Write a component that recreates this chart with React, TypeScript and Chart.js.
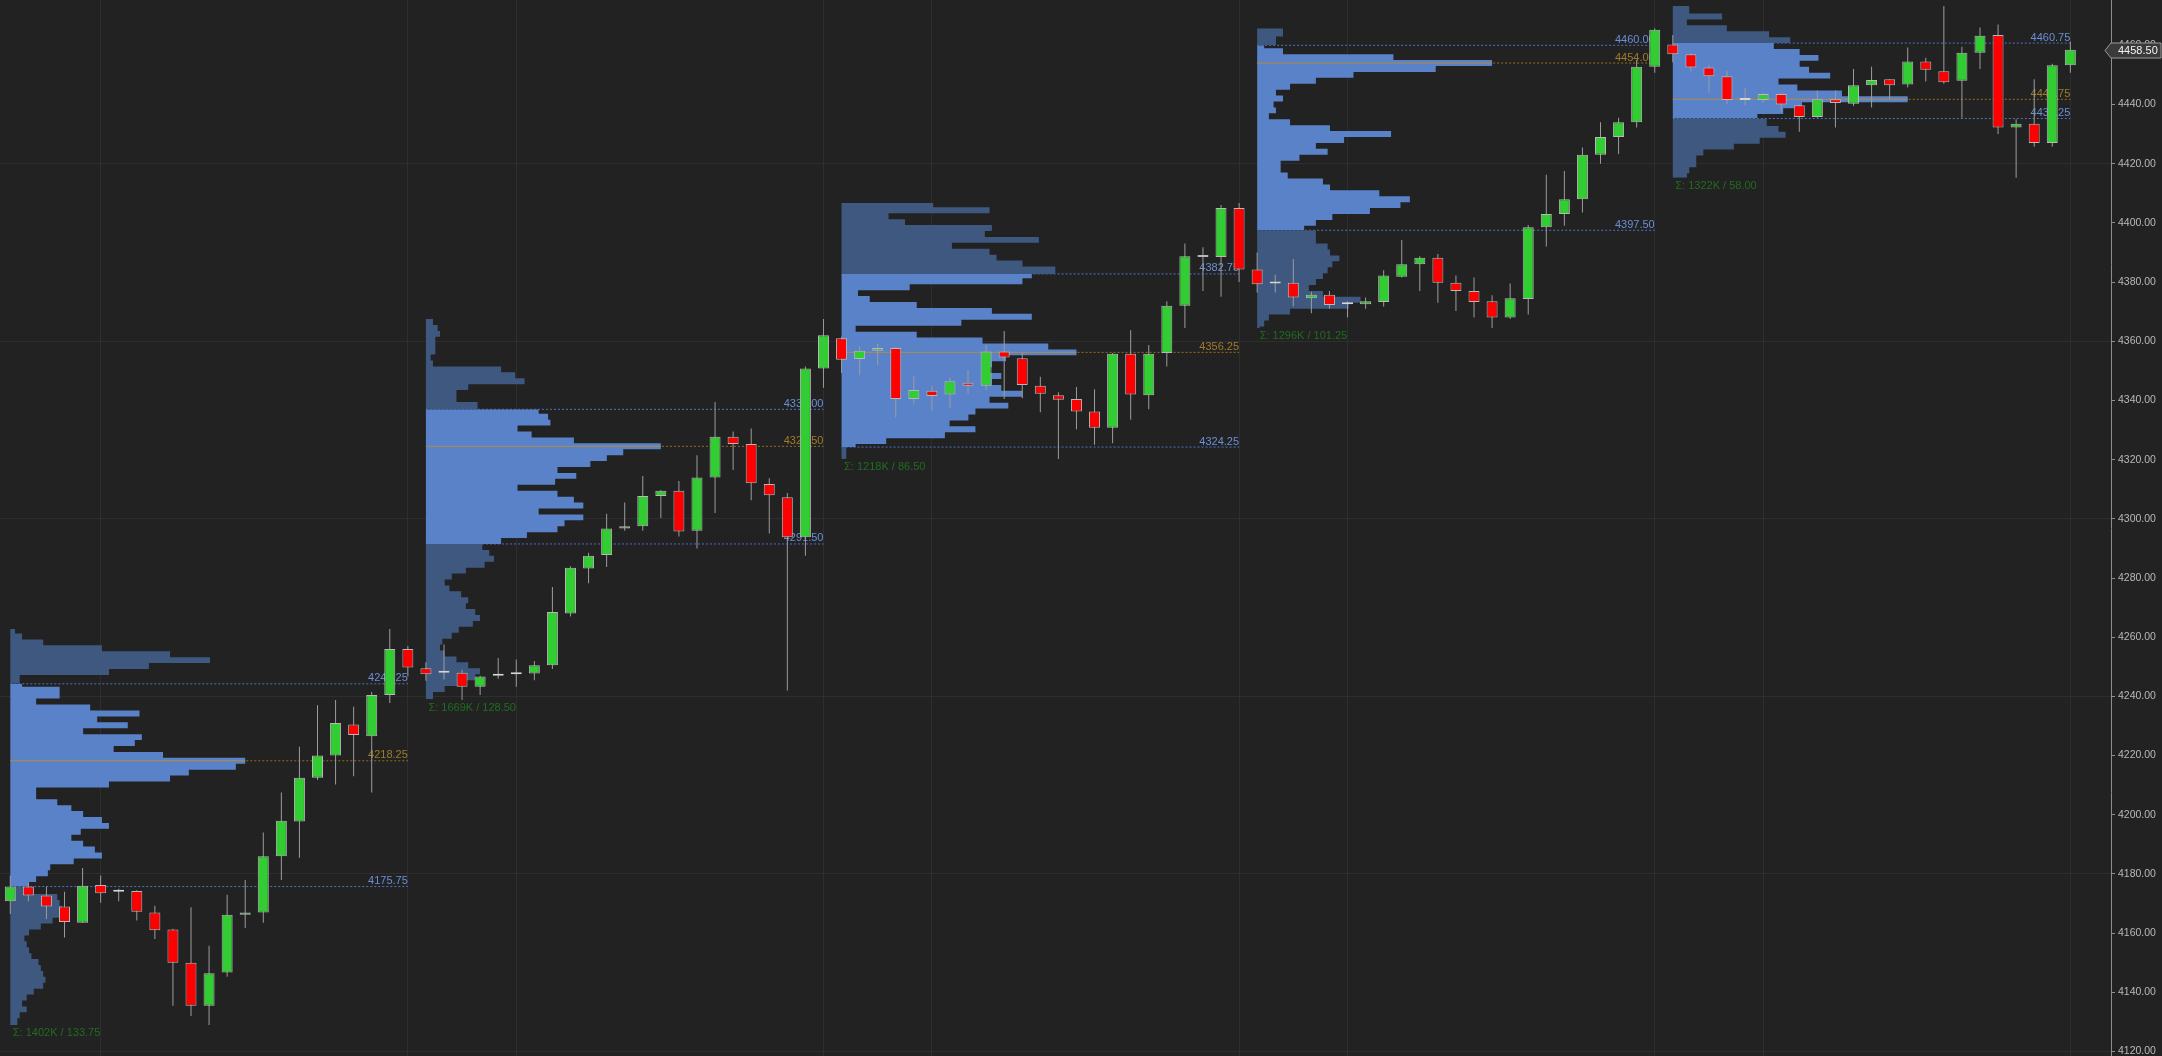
import React, { useEffect, useRef } from 'react';
import { Chart, registerables } from 'chart.js';

Chart.register(...registerables);

// ---------- Candles (one per bar, index 0..114) ----------
const opens = [
  4170.75, 4175.75, 4172.75, 4169, 4163.5, 4176.25, 4174, 4174.25, 4167, 4161.25, 4150, 4135.5, 4146.75, 4166.25, 4167, 4186, 4197.75, 4212.5, 4220, 4230.5, 4226.5, 4240.5, 4256,
  4249.5, 4248, 4248, 4243.25, 4247, 4247.5, 4247.75, 4250.5, 4268, 4283.25, 4287.75, 4296.75, 4297.5, 4307.75, 4309.5, 4296, 4314, 4327.75, 4325.25, 4311.75, 4307.25, 4293.75, 4350.75,
  4361, 4354, 4356.75, 4357.75, 4340.5, 4343.25, 4342, 4346, 4345, 4356.5, 4354.25, 4345, 4341.75, 4340.5, 4336.25, 4330.75, 4355.75, 4341.75, 4356, 4372, 4389, 4388.5, 4405,
  4384.25, 4379.5, 4379.75, 4374.5, 4375.75, 4372.5, 4372.5, 4373.25, 4381.75, 4386, 4388.25, 4379.75, 4377, 4373.5, 4368, 4374.25, 4398.5, 4403, 4408, 4423, 4429, 4434, 4452.75,
  4460.25, 4457, 4452.5, 4449.5, 4441.5, 4441.5, 4443.5, 4439.75, 4435.75, 4441.75, 4440.25, 4446.5, 4448.5, 4446.75, 4454.5, 4451.25, 4448, 4457.5, 4463.5, 4432.25, 4433.5, 4427, 4453.25,
];
const highs = [
  4179.5, 4177, 4175.75, 4174, 4182, 4179.5, 4175, 4174.5, 4169.25, 4161.5, 4168.75, 4155.75, 4173, 4178, 4194, 4207.5, 4223, 4237, 4238.75, 4236.5, 4241.5, 4262.75, 4257,
  4251.5, 4257.5, 4249, 4247, 4253, 4252.5, 4252, 4277, 4284, 4288.5, 4301.75, 4305.5, 4314.5, 4309.75, 4312.75, 4321.5, 4339.5, 4329.5, 4330.5, 4313.75, 4308.75, 4351.5, 4367.5,
  4361.5, 4358.25, 4359.25, 4358, 4348.25, 4345, 4347.75, 4350.25, 4358.75, 4363.5, 4356, 4348, 4342.75, 4344.5, 4343.75, 4356, 4363.75, 4358.75, 4373.5, 4393, 4391.75, 4406, 4406.75,
  4390, 4382.5, 4387.75, 4376.75, 4377, 4373.5, 4374.75, 4384, 4394.25, 4388.75, 4389.5, 4382.25, 4381.5, 4375.5, 4379.5, 4399.25, 4416.25, 4417.5, 4425.5, 4434, 4435.5, 4455, 4465.75,
  4463.5, 4457.25, 4453.25, 4451.25, 4445.5, 4444, 4443.75, 4440, 4444.75, 4444.75, 4452, 4452.75, 4448.5, 4459.25, 4455.75, 4473.25, 4459.5, 4466, 4467, 4435, 4448.5, 4453.75, 4461.25,
];
const lows = [
  4166.5, 4170.75, 4164.75, 4158.5, 4163.5, 4170.25, 4170.75, 4164.25, 4158, 4135.5, 4132, 4129, 4145.25, 4161.75, 4163.5, 4178, 4185.5, 4211.75, 4210.25, 4213, 4207.5, 4237.75, 4246.75,
  4245.25, 4245.75, 4238.75, 4240.5, 4246, 4243.25, 4245.5, 4249.25, 4267, 4278.25, 4283.75, 4296, 4296, 4300.25, 4294, 4290, 4302, 4316.5, 4306.25, 4295, 4242, 4287.5, 4344.25,
  4349.25, 4348.5, 4352, 4334.25, 4339, 4336.5, 4337.25, 4342.25, 4343.5, 4340.5, 4340.75, 4336, 4320.25, 4330.25, 4325, 4325.5, 4333.5, 4337, 4351.5, 4364.5, 4377, 4375, 4380,
  4376.5, 4376.5, 4371.75, 4369.5, 4371, 4368, 4371, 4371.75, 4381.5, 4377, 4373, 4370.25, 4368, 4364.5, 4367.5, 4369, 4392, 4399, 4403.5, 4420, 4423.25, 4432.25, 4450.75,
  4454.25, 4451.25, 4444, 4440.25, 4439.75, 4440.5, 4437.5, 4430.75, 4435.5, 4432.25, 4439.5, 4439, 4441.75, 4445.75, 4447.75, 4447, 4435.5, 4452, 4430, 4415.25, 4425.75, 4425.75, 4450.75,
];
const closes = [
  4175.75, 4172.75, 4169, 4163.75, 4176, 4173.5, 4174, 4167.25, 4161, 4150, 4135.5, 4146.5, 4166.25, 4167, 4186, 4198, 4212.5, 4220, 4231, 4227, 4240.5, 4256, 4249.75,
  4247.5, 4248, 4243.25, 4246.75, 4247, 4247.5, 4250.5, 4268.5, 4283.5, 4287.5, 4296.75, 4297.5, 4307.75, 4309.5, 4295.75, 4314, 4327.75, 4325.25, 4312, 4308, 4293.75, 4350.75, 4362,
  4353.75, 4356.75, 4357.75, 4340.5, 4343.5, 4341.5, 4346.5, 4345, 4356.5, 4354.5, 4345.25, 4342.25, 4340.25, 4336.25, 4330.75, 4355.75, 4342, 4355.75, 4372, 4388.75, 4388.5, 4405, 4384.25,
  4379.25, 4379.5, 4374.75, 4375.75, 4372.25, 4372.5, 4373.5, 4382.25, 4386, 4388.25, 4379.75, 4377, 4373.25, 4368, 4374.5, 4398.5, 4403, 4408, 4423, 4429, 4434, 4452.75, 4465.25,
  4457, 4452.5, 4449.5, 4441.5, 4441.5, 4443.5, 4440, 4435.75, 4441.75, 4440.5, 4446.5, 4448.25, 4446.5, 4454.5, 4451.75, 4447.5, 4457.5, 4463.25, 4432.25, 4433.5, 4427, 4453.25, 4458.5,
];

// ---------- Sessions / volume profiles ----------
const sessionStarts = [0, 23, 46, 69, 92];
const sessionEnds = [22, 45, 68, 91, 114];
const profileHighs = [4262.75, 4367.5, 4406.75, 4465.75, 4473.25];
const profileLows = [4129.0, 4239.0, 4320.25, 4364.5, 4415.25];
const profilePocs = [4218.25, 4324.5, 4356.25, 4454.0, 4441.75];
const profileVahs = [4244.25, 4337.0, 4382.75, 4460.0, 4460.75];
const profileVals = [4175.75, 4291.5, 4324.25, 4397.5, 4435.25];
const profileVolumesK = [1402, 1669, 1218, 1296, 1322];
const profileTopLevels = [4262.25, 4366.5, 4406.25, 4464.0, 4471.75];
const profileStep = 2; // price points per profile row

// relative volume per row (% of POC), listed from the top row downwards
const profile1 = [
  2, 5, 14, 39, 68, 85, 59, 42, 4, 5, 21, 21, 11, 34, 55, 37, 50, 31, 56, 53, 44, 65,
  100,
  96, 76, 68, 42, 11, 11, 20, 26, 31, 39, 42, 30, 26, 31, 36, 39, 27, 17, 16, 11, 8, 10,
  20, 21, 22, 21, 18, 13, 8, 6, 7, 8, 9, 12, 13, 14, 15, 14, 10, 7, 5, 7, 4, 3,
];
const profile2 = [
  3, 5, 6, 4, 4, 4, 2, 3, 32, 38, 42, 18, 13, 13, 22, 48, 52, 53, 39, 45, 63,
  100,
  84, 77, 70, 56, 64, 55, 39, 56, 63, 67, 48, 67, 59, 56, 43, 32, 24, 27, 29, 25, 17,
  11, 8, 10, 15, 18, 17, 21, 23, 20, 14, 11, 7, 6, 8, 13, 18, 23, 21, 14, 8, 3,
];
const profile3 = [
  39, 63, 20, 27, 64, 61, 84, 47, 63, 66, 77, 91, 81, 77, 29, 7, 12, 32, 64, 81, 51, 6, 32, 60, 88,
  100,
  70, 64, 61, 68, 64, 68, 77, 63, 71, 57, 54, 46, 57, 44, 19, 6, 2, 2,
];
const profile4 = [
  11, 8, 3, 11, 58,
  100,
  76, 41, 25, 14, 8, 11, 7, 8, 5, 14, 31, 57, 37, 25, 30, 18, 10, 10, 13, 28, 31, 52, 65,
  61, 48, 32, 25, 20, 25, 25, 30, 31, 35, 32, 30, 28, 25, 22, 28, 44, 39, 14, 5, 3, 1,
];
const profile5 = [
  7, 21, 6, 23, 41, 50, 43, 54, 62, 54, 58, 67, 45, 53, 72,
  100,
  55, 47, 36, 40, 45, 48, 37, 26, 13, 10, 10, 7, 6,
];
const profileShapes = [profile1, profile2, profile3, profile4, profile5];

// ---------- Axes ----------
const yMin = 4118.5;
const yMax = 4475.3;
const yTickStep = 20;
const yGridBase = 4120;
const yGridEvery = 60;
const xMin = -0.57;
const xMax = 116.25;
const verticalGridBars = [5, 22, 28, 45, 51, 68, 74, 91, 97, 114];

// ---------- Styling ----------
const BG = '#222222';
const GRID = '#2e2e2e';
const AXIS = '#8e8e8e';
const TICK_TEXT = '#b9b9b9';
const VA_FILL = '#5a82c8';
const OUT_FILL = '#3f5880';
const VA_LINE = '#4f73c2';
const VA_TEXT = '#6b8fd6';
const POC_SOLID = '#b38b45';
const POC_DOT = '#94701f';
const POC_TEXT = '#a07c2a';
const SUM_TEXT = '#1f6d1f';
const UP = '#32cd32';
const DOWN = '#ff0000';
const DOJI = '#d6d6d6';
const BODY_BORDER = '#b8b8b8';
const WICK = '#9c9c9c';
const PROFILE_SPAN = 13; // POC row width in bars
const FONT = '"Liberation Sans", Arial, sans-serif';

function profileDatasets(k: number) {
  const start = sessionStarts[k];
  const vols = profileShapes[k];
  const levels = vols.map((_, i) => profileTopLevels[k] - i * profileStep);
  const vah = profileVahs[k];
  const val = profileVals[k];
  const groups = [
    { top: profileHighs[k], bottom: vah, color: OUT_FILL, pick: (l: number) => l > vah },
    { top: vah, bottom: val, color: VA_FILL, pick: (l: number) => l <= vah && l >= val },
    { top: val, bottom: profileLows[k], color: OUT_FILL, pick: (l: number) => l < val },
  ];
  return groups.map((g) => {
    const idx = levels.map((_, i) => i).filter((i) => g.pick(levels[i]));
    const pts: { x: number; y: number }[] = [{ x: start, y: g.top }];
    idx.forEach((i, j) => {
      const bottom = j === idx.length - 1 ? g.bottom : levels[i] - profileStep / 2;
      pts.push({ x: start + (vols[i] / 100) * PROFILE_SPAN, y: bottom });
    });
    pts.push({ x: start, y: g.bottom });
    return {
      type: 'line',
      label: 'profile',
      indexAxis: 'y',
      data: pts,
      stepped: true,
      fill: { value: start },
      backgroundColor: g.color,
      borderColor: 'rgba(0,0,0,0)',
      borderWidth: 0,
      pointRadius: 0,
      order: 8,
    };
  });
}

function levelLine(x0: number, x1: number, v: number, color: string, dashed: boolean, order: number) {
  return {
    type: 'line',
    label: 'level',
    data: [
      { x: x0, y: v },
      { x: x1, y: v },
    ],
    borderColor: color,
    borderWidth: 1,
    borderDash: dashed ? [2, 2] : [],
    pointRadius: 0,
    fill: false,
    order,
  };
}

export default function App() {
  const ref = useRef<HTMLCanvasElement | null>(null);

  useEffect(() => {
    document.body.style.margin = '0';
    document.body.style.background = BG;
    const canvas = ref.current;
    if (!canvas) return;

    const datasets: any[] = [];
    sessionStarts.forEach((s, k) => {
      const e = sessionEnds[k];
      datasets.push(levelLine(s, e, profileVahs[k], VA_LINE, true, 10));
      datasets.push(levelLine(s, e, profileVals[k], VA_LINE, true, 10));
      datasets.push(levelLine(s, e, profilePocs[k], POC_DOT, true, 10));
      datasets.push(...profileDatasets(k));
      datasets.push(levelLine(s, s + PROFILE_SPAN, profilePocs[k], POC_SOLID, false, 7));
    });

    datasets.push({
      type: 'bar',
      label: 'wicks',
      data: lows.map((l, i) => ({ x: i, y: [l, highs[i]] })),
      backgroundColor: WICK,
      borderWidth: 0,
      grouped: false,
      maxBarThickness: 1,
      inflateAmount: 0,
      order: 2,
    });
    datasets.push({
      type: 'bar',
      label: 'bodies',
      data: opens.map((o, i) => ({ x: i, y: [o, closes[i]] })),
      backgroundColor: (c: any) => {
        const i = c.dataIndex;
        if (i === undefined) return UP;
        return closes[i] > opens[i] ? UP : closes[i] < opens[i] ? DOWN : DOJI;
      },
      borderColor: (c: any) => {
        const i = c.dataIndex;
        if (i === undefined) return BODY_BORDER;
        return closes[i] === opens[i] ? DOJI : BODY_BORDER;
      },
      borderWidth: 1,
      borderSkipped: false,
      grouped: false,
      maxBarThickness: 11,
      minBarLength: 2,
      inflateAmount: 0,
      order: 1,
    });

    const bgPlugin = {
      id: 'bg',
      beforeDraw(chart: any) {
        const c = chart.ctx;
        c.save();
        c.fillStyle = BG;
        c.fillRect(0, 0, chart.width, chart.height);
        c.restore();
      },
    };

    const labelPlugin = {
      id: 'profileLabels',
      beforeDatasetDraw(chart: any, args: any) {
        if (chart.data.datasets[args.index].label !== 'wicks') return;
        const c = chart.ctx;
        const xs = chart.scales.x;
        const ys = chart.scales.y;
        c.save();
        c.font = `11px ${FONT}`;
        sessionStarts.forEach((s, k) => {
          const xe = xs.getPixelForValue(sessionEnds[k]);
          c.textAlign = 'right';
          c.textBaseline = 'alphabetic';
          const items: [number, string][] = [
            [profileVahs[k], VA_TEXT],
            [profilePocs[k], POC_TEXT],
            [profileVals[k], VA_TEXT],
          ];
          items.forEach(([v, col]) => {
            c.fillStyle = col;
            c.fillText(v.toFixed(2), xe, ys.getPixelForValue(v) - 2.5);
          });
          c.textAlign = 'left';
          c.textBaseline = 'top';
          c.fillStyle = SUM_TEXT;
          const range = (profileHighs[k] - profileLows[k]).toFixed(2);
          c.fillText(
            `Σ: ${profileVolumesK[k]}K / ${range}`,
            xs.getPixelForValue(s) + 2.5,
            ys.getPixelForValue(profileLows[k]) + 3
          );
        });
        c.restore();
      },
    };

    const tagPlugin = {
      id: 'priceTag',
      afterDraw(chart: any) {
        const c = chart.ctx;
        const ys = chart.scales.y;
        const last = closes[closes.length - 1];
        const y = Math.round(ys.getPixelForValue(last)) + 0.5;
        const left = ys.left;
        const right = chart.width - 1;
        const h = 7.5;
        c.save();
        c.beginPath();
        c.moveTo(left - 6, y);
        c.lineTo(left, y - h);
        c.lineTo(right, y - h);
        c.lineTo(right, y + h);
        c.lineTo(left, y + h);
        c.closePath();
        c.fillStyle = '#3a3a3a';
        c.fill();
        c.strokeStyle = '#9a9a9a';
        c.lineWidth = 1;
        c.stroke();
        c.fillStyle = '#f2f2f2';
        c.font = `11px ${FONT}`;
        c.textAlign = 'left';
        c.textBaseline = 'middle';
        c.fillText(last.toFixed(2), left + 7, y + 0.5);
        c.restore();
      },
    };

    const chart = new Chart(canvas, {
      type: 'bar',
      data: { datasets },
      options: {
        responsive: false,
        animation: false,
        events: [],
        layout: { padding: 0 },
        plugins: {
          legend: { display: false },
          tooltip: { enabled: false },
        },
        scales: {
          x: {
            type: 'linear',
            min: xMin,
            max: xMax,
            offset: false,
            position: 'bottom',
            grid: { color: GRID, drawTicks: false, offset: false },
            border: { display: false },
            ticks: { display: false },
            afterBuildTicks: (s: any) => {
              s.ticks = verticalGridBars.map((v) => ({ value: v }));
            },
            afterFit: (s: any) => {
              s.height = 0;
              s.paddingLeft = 0;
              s.paddingRight = 0;
              s.paddingTop = 0;
              s.paddingBottom = 0;
            },
          },
          y: {
            type: 'linear',
            position: 'right',
            min: yMin,
            max: yMax,
            beginAtZero: false,
            grid: {
              color: (c: any) =>
                c.tick && (c.tick.value - yGridBase) % yGridEvery === 0 ? GRID : 'rgba(0,0,0,0)',
              tickColor: AXIS,
              tickLength: 4,
            },
            border: { display: true, color: AXIS, width: 1 },
            ticks: {
              stepSize: yTickStep,
              includeBounds: false,
              autoSkip: false,
              padding: 3,
              color: TICK_TEXT,
              font: { family: FONT, size: 10.5 },
              callback: (v: any) => Number(v).toFixed(2),
            },
            afterFit: (s: any) => {
              s.width = 51;
              s.paddingTop = 0;
              s.paddingBottom = 0;
              s.paddingLeft = 0;
              s.paddingRight = 0;
            },
          },
        },
      } as any,
      plugins: [bgPlugin, labelPlugin, tagPlugin],
    } as any);

    return () => chart.destroy();
  }, []);

  return (
    <div style={{ width: 2162, height: 1056, background: BG }}>
      <canvas ref={ref} width={2162} height={1056} style={{ display: 'block' }} />
    </div>
  );
}
